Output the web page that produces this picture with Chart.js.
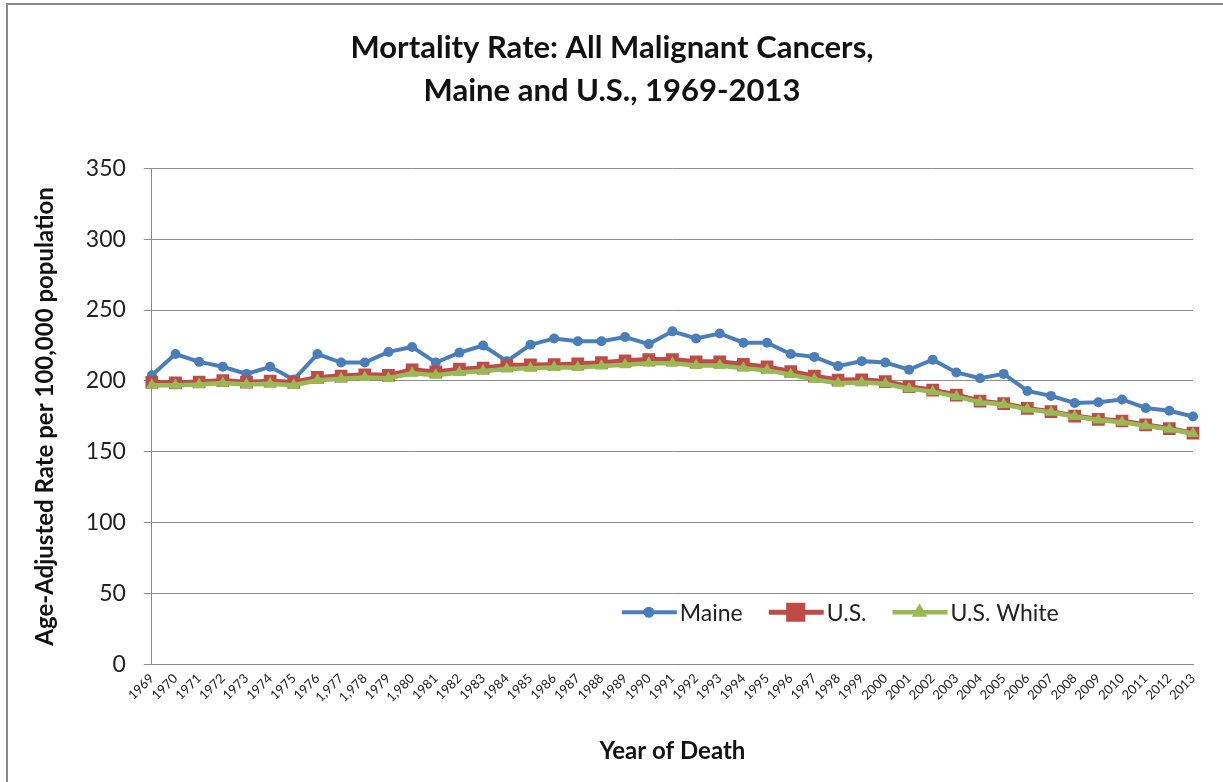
<!DOCTYPE html>
<html>
<head>
<meta charset="utf-8">
<script src="https://cdn.jsdelivr.net/npm/chart.js@4.4.1/dist/chart.umd.min.js"></script>
<style>
  html, body { margin: 0; padding: 0; background: #fff; }
  #wrap { position: relative; width: 1223px; height: 782px; }
  #frame { position: absolute; left: 6px; top: 3px; right: -4px; bottom: -4px; border-left: 2px solid #8a8a8a; border-top: 2px solid #8a8a8a; pointer-events: none; }
</style>
</head>
<body>
<div id="wrap">
<canvas id="mortality" width="1223" height="782"></canvas>
<div id="frame"></div>
</div>
<script>
// years as labelled in the source sheet (a few came through with thousands separators)
const years = ["1969","1970","1971","1972","1973","1974","1975","1976","1,977","1,978","1979","1,980",
  "1981","1982","1983","1984","1985","1986","1987","1988","1989","1990","1991","1992","1993","1994",
  "1995","1996","1997","1998","1999","2000","2001","2002","2003","2004","2005","2006","2007","2008",
  "2009","2010","2011","2012","2013"];

const maine = [204, 219, 213.5, 210, 205, 210, 201, 219, 213, 213, 220.5, 224,
  213, 220, 225, 214, 225.5, 230, 228, 228, 231, 226, 235, 230, 233.5, 227,
  227, 219, 217, 210.5, 214, 213, 208, 215, 206, 202, 205, 193, 189.5, 184.5,
  185, 187, 181, 179, 175];

const us = [199, 198.7, 199.3, 200.3, 199.2, 199.9, 199.1, 202.5, 203.5, 204.4, 204, 207.9,
  206.4, 208.3, 209.1, 210.9, 211.3, 211.5, 212, 212.9, 214.2, 215.1, 215.1, 213.5, 213.5, 211.7,
  209.9, 206.7, 203.4, 200.7, 200.8, 199.6, 196, 193.5, 190.1, 185.8, 184, 180.7, 178.4, 175.3,
  173, 171.8, 169, 166.5, 163.2];

const usWhite = [197, 197, 197.5, 198.5, 197.5, 198, 197, 200.5, 201.5, 202.5, 202, 205.5,
  204, 206, 207, 208.5, 209, 209.5, 209.5, 210.5, 211.5, 212.5, 212.5, 211, 211, 209,
  207.5, 204.5, 201, 198.5, 199, 198, 194.5, 192.5, 189, 185, 183.5, 180, 178, 175,
  172.5, 171, 168.5, 166, 163];

const yTicks = [0, 50, 100, 150, 200, 250, 300, 350];

const FONT = "Lato, 'Liberation Sans', sans-serif";

// legend sits inside the plot, bottom right, like the Excel original
const insideLegend = {
  id: 'insideLegend',
  afterDraw(chart) {
    const ctx = chart.ctx;
    const y = chart.scales.y.getPixelForValue(37);
    let x = chart.chartArea.left + 470;
    ctx.save();
    ctx.font = "23px " + FONT;
    ctx.textBaseline = 'middle';
    chart.data.datasets.forEach((ds) => {
      ctx.strokeStyle = ds.borderColor;
      ctx.lineWidth = ds.borderWidth;
      ctx.beginPath();
      ctx.moveTo(x, y);
      ctx.lineTo(x + 55, y);
      ctx.stroke();
      Chart.helpers.drawPoint(ctx, {
        pointStyle: ds.pointStyle,
        radius: ds.legendRadius,
        borderWidth: 1
      }, x + 27, y);
      ctx.fillStyle = ds.borderColor;
      ctx.fill();
      ctx.fillStyle = '#222';
      ctx.fillText(ds.label, x + 58, y + 1);
      x += 58 + ctx.measureText(ds.label).width + 26;
    });
    ctx.restore();
  }
};

new Chart(document.getElementById('mortality'), {
  type: 'line',
  data: {
    labels: years,
    datasets: [
      {
        label: 'Maine', data: maine, order: 2,
        borderColor: '#4a7ebb', backgroundColor: '#4a7ebb',
        borderWidth: 4, pointStyle: 'circle', pointRadius: 5,
        pointBorderWidth: 0, legendRadius: 3.5
      },
      {
        label: 'U.S.', data: us, order: 1,
        borderColor: '#be4b48', backgroundColor: '#be4b48',
        borderWidth: 5, pointStyle: 'rect', pointRadius: 9,
        pointBorderWidth: 0, legendRadius: 10
      },
      {
        label: 'U.S. White', data: usWhite, order: 0,
        borderColor: '#98b954', backgroundColor: '#98b954',
        borderWidth: 4.5, pointStyle: 'triangle', pointRadius: 7,
        pointBorderWidth: 0, legendRadius: 4.5
      }
    ]
  },
  options: {
    responsive: false,
    animation: false,
    layout: { padding: { left: 31, right: 30, top: 26, bottom: 16 } },
    elements: { line: { tension: 0 } },
    plugins: {
      legend: { display: false },
      tooltip: { enabled: false },
      title: {
        display: true,
        text: ['Mortality Rate: All Malignant Cancers,', 'Maine and U.S., 1969-2013'],
        color: '#111',
        font: { family: FONT, size: 31, weight: 'bold', lineHeight: 1.39 },
        padding: { top: 0, bottom: 56 }
      }
    },
    scales: {
      x: {
        offset: false,
        grid: { display: false, drawTicks: true, tickLength: 6, color: '#888' },
        border: { color: '#888', width: 1 },
        ticks: {
          autoSkip: false, maxRotation: 45, minRotation: 45,
          color: '#222', padding: 0,
          font: { family: FONT, size: 13 }
        },
        title: {
          display: true, text: 'Year of Death', color: '#111',
          font: { family: FONT, size: 24, weight: 'bold' },
          padding: { top: 32, bottom: 0 }
        }
      },
      y: {
        min: 0, max: 350,
        afterBuildTicks: (axis) => { axis.ticks = yTicks.map(v => ({ value: v })); },
        grid: { color: '#8c8c8c', lineWidth: 1, tickLength: 8 },
        border: { color: '#8c8c8c', width: 1 },
        ticks: {
          color: '#222', padding: 18,
          font: { family: FONT, size: 23 }
        },
        title: {
          display: true, text: 'Age-Adjusted Rate per 100,000 population', color: '#111',
          font: { family: FONT, size: 24, weight: 'bold' },
          padding: { top: 0, bottom: 8 }
        }
      }
    }
  },
  plugins: [insideLegend]
});
</script>
</body>
</html>
